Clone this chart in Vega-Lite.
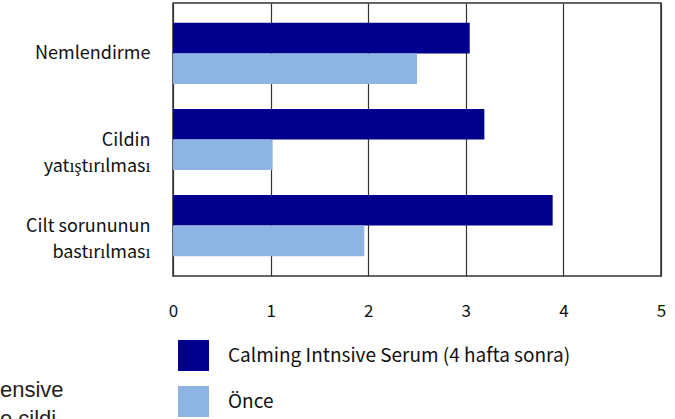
{
  "$schema": "https://vega.github.io/schema/vega-lite/v6.json",
  "width": 488,
  "height": 273,
  "autosize": {"type": "none"},
  "padding": {"left": 173, "top": 3, "right": 14, "bottom": 143},
  "background": "white",
  "config": {
    "view": {"stroke": "#333333", "strokeWidth": 1.5},
    "font": "Noto Sans CJK JP"
  },
  "title": {
    "text": ["ensive", "e cildi"],
    "orient": "bottom",
    "anchor": "start",
    "frame": "group",
    "font": "Liberation Sans",
    "fontSize": 22,
    "fontWeight": "normal",
    "color": "#222222",
    "lineHeight": 29,
    "baseline": "alphabetic",
    "dx": -173,
    "offset": -20
  },
  "data": {
    "values": [
      {"kategori": "Nemlendirme", "seri": "Calming Intnsive Serum (4 hafta sonra)", "deger": 3.04},
      {"kategori": "Nemlendirme", "seri": "Önce", "deger": 2.50},
      {"kategori": "Cildin|yatıştırılması", "seri": "Calming Intnsive Serum (4 hafta sonra)", "deger": 3.19},
      {"kategori": "Cildin|yatıştırılması", "seri": "Önce", "deger": 1.02},
      {"kategori": "Cilt sorununun|bastırılması", "seri": "Calming Intnsive Serum (4 hafta sonra)", "deger": 3.89},
      {"kategori": "Cilt sorununun|bastırılması", "seri": "Önce", "deger": 1.96}
    ]
  },
  "mark": {"type": "bar"},
  "encoding": {
    "y": {
      "field": "kategori",
      "type": "nominal",
      "sort": null,
      "scale": {"paddingInner": 0.29, "paddingOuter": 0.23},
      "axis": {
        "title": null,
        "ticks": false,
        "domain": false,
        "labelExpr": "split(datum.label, '|')",
        "labelFontSize": 18,
        "labelColor": "#111111",
        "labelPadding": 23,
        "labelBaseline": "alphabetic",
        "labelOffset": 6,
        "labelLineHeight": 26,
        "labelAlign": "right"
      }
    },
    "yOffset": {
      "field": "seri",
      "type": "nominal",
      "sort": ["Calming Intnsive Serum (4 hafta sonra)", "Önce"],
      "scale": {"paddingInner": 0, "paddingOuter": 0}
    },
    "x": {
      "field": "deger",
      "type": "quantitative",
      "scale": {"domain": [0, 5], "nice": false},
      "axis": {
        "title": null,
        "values": [0, 1, 2, 3, 4, 5],
        "ticks": false,
        "domain": false,
        "grid": true,
        "gridColor": "#333333",
        "gridWidth": 1.2,
        "gridOpacity": 1,
        "labelFontSize": 17,
        "labelColor": "#111111",
        "labelPadding": 27,
        "labelBaseline": "top",
        "labelFlush": false
      }
    },
    "color": {
      "field": "seri",
      "type": "nominal",
      "sort": ["Calming Intnsive Serum (4 hafta sonra)", "Önce"],
      "scale": {"range": ["#00008C", "#8EB4E3"]},
      "legend": {
        "title": null,
        "orient": "none",
        "legendX": 5,
        "legendY": 337,
        "direction": "vertical",
        "symbolType": "square",
        "symbolSize": 961,
        "symbolStrokeWidth": 0,
        "symbolOpacity": 1,
        "labelFontSize": 19,
        "labelColor": "#111111",
        "labelOffset": 19,
        "rowPadding": 15,
        "padding": 0,
        "labelLimit": 500
      }
    }
  }
}
